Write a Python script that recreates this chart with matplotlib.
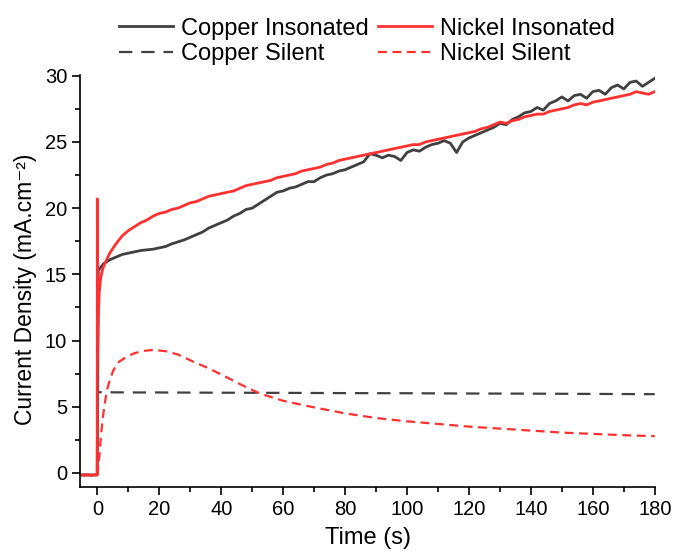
import numpy as np
import matplotlib
matplotlib.use("Agg")
import matplotlib.pyplot as plt

plt.rcParams['font.family'] = ['Liberation Sans', 'DejaVu Sans']

# before the pulse, all currents sit near zero
t_pre = [-5, -4, -3, -2, -1, -0.05]
pre_vals = [-0.15, -0.16, -0.15, -0.17, -0.15, -0.15]

# regular sampling after the start (s)
t_main = np.arange(2, 181, 2)

copper_ins_start_t = [0.3]
copper_ins_start = [15.3]
copper_ins = [
    15.8, 16.1, 16.3, 16.5, 16.6, 16.7, 16.8, 16.85, 16.9, 17.0,
    17.1, 17.3, 17.45, 17.6, 17.8, 18.0, 18.2, 18.5, 18.7, 18.9,
    19.1, 19.4, 19.6, 19.9, 20.0, 20.3, 20.6, 20.9, 21.2, 21.3,
    21.5, 21.6, 21.8, 22.0, 22.0, 22.3, 22.5, 22.6, 22.8, 22.9,
    23.1, 23.3, 23.5, 24.1, 24.0, 23.8, 24.0, 23.9, 23.6, 24.2,
    24.4, 24.3, 24.6, 24.8, 24.9, 25.1, 24.9, 24.2, 25.0, 25.3,
    25.5, 25.7, 25.9, 26.1, 26.4, 26.3, 26.7, 26.9, 27.2, 27.3,
    27.6, 27.4, 27.9, 28.1, 28.4, 28.1, 28.5, 28.6, 28.3, 28.8,
    28.9, 28.6, 29.1, 29.3, 29.0, 29.5, 29.6, 29.2, 29.5, 29.8,
]

nickel_ins_start_t = [0.0, 0.05, 0.3, 0.6, 1.0, 1.5]
nickel_ins_start = [20.7, 8.6, 11.8, 13.6, 14.6, 15.2]
nickel_ins = [
    15.6, 16.6, 17.3, 17.9, 18.3, 18.6, 18.9, 19.1, 19.4, 19.6,
    19.7, 19.9, 20.0, 20.2, 20.4, 20.5, 20.7, 20.9, 21.0, 21.1,
    21.2, 21.3, 21.5, 21.7, 21.8, 21.9, 22.0, 22.1, 22.3, 22.4,
    22.5, 22.6, 22.8, 22.9, 23.0, 23.1, 23.3, 23.4, 23.6, 23.7,
    23.8, 23.9, 24.0, 24.1, 24.2, 24.3, 24.4, 24.5, 24.6, 24.7,
    24.8, 24.8, 25.0, 25.1, 25.2, 25.3, 25.4, 25.5, 25.6, 25.7,
    25.8, 26.0, 26.1, 26.3, 26.5, 26.4, 26.6, 26.7, 26.9, 27.0,
    27.1, 27.1, 27.3, 27.4, 27.5, 27.6, 27.8, 27.9, 27.8, 28.0,
    28.1, 28.2, 28.3, 28.4, 28.5, 28.6, 28.8, 28.7, 28.6, 28.8,
]

copper_sil_t = [-5, -3, -1, -0.05, 0.05, 10, 20, 40, 60, 80, 100, 120, 140, 160, 180]
copper_sil = [-0.15, -0.15, -0.15, -0.15, 6.1, 6.08, 6.08, 6.06, 6.05, 6.03, 6.02, 6.0, 5.99, 5.97, 5.95]

nickel_sil_t = [-5, -3, -1, 0, 0.2, 0.5, 0.8, 1.2, 1.8, 2.5, 3.1, 4, 5.2, 7, 9.5, 12, 15, 18,
                22, 26, 31, 36, 42, 47, 52.5, 60, 70, 80, 90, 100, 110, 120, 130, 140, 150,
                160, 170, 180]
nickel_sil = [-0.15, -0.15, -0.15, -0.1, 0.2, 0.9, 1.7, 2.9, 4.25, 5.4, 6.27, 7.0, 7.78, 8.4,
              8.78, 9.05, 9.22, 9.29, 9.2, 8.95, 8.4, 7.9, 7.2, 6.6, 6.0, 5.45, 4.95, 4.5,
              4.15, 3.9, 3.7, 3.5, 3.35, 3.2, 3.05, 2.95, 2.85, 2.78]

grey = '#404040'
red = '#ff3030'

fig = plt.figure(figsize=(6.75, 5.52), dpi=100)
ax = fig.add_axes([0.119, 0.118, 0.851, 0.746])

t_cu = np.concatenate([t_pre, copper_ins_start_t, t_main])
y_cu = np.concatenate([pre_vals, copper_ins_start, copper_ins])
t_ni = np.concatenate([t_pre, nickel_ins_start_t, t_main])
y_ni = np.concatenate([pre_vals, nickel_ins_start, nickel_ins])

l1, = ax.plot(t_cu, y_cu, color=grey, lw=2, label='Copper Insonated')
l2, = ax.plot(copper_sil_t, copper_sil, color=grey, lw=1.6, dashes=(6, 4), label='Copper Silent')
l3, = ax.plot(t_ni, y_ni, color=red, lw=2, label='Nickel Insonated')
l4, = ax.plot(nickel_sil_t, nickel_sil, color=red, lw=1.6, dashes=(4, 2.5), label='Nickel Silent')

ax.set_xlim(-5.5, 180)
ax.set_ylim(-1.05, 30.05)
ax.set_xticks(range(0, 181, 20))
ax.set_xticks(range(10, 181, 20), minor=True)
ax.set_yticks(range(0, 31, 5))
ax.set_yticks(np.arange(2.5, 30, 5), minor=True)
ax.tick_params(which='major', direction='out', length=6, width=1.2, labelsize=14.5)
ax.tick_params(which='minor', direction='out', length=3.5, width=1.2)
for s in ['top', 'right']:
    ax.spines[s].set_visible(False)
for s in ['left', 'bottom']:
    ax.spines[s].set_linewidth(1.2)

ax.set_xlabel('Time (s)', fontsize=17, labelpad=6)
ax.set_ylabel('Current Density (mA.cm⁻²)', fontsize=16.5)
ax.yaxis.set_label_coords(-0.075, 0.48)

fig.legend(handles=[l1, l2, l3, l4], ncol=2, loc='upper left',
           bbox_to_anchor=(0.176, 0.968), frameon=False, fontsize=17,
           borderpad=0, borderaxespad=0,
           handlelength=2.3, handletextpad=0.34, columnspacing=0.38,
           labelspacing=0.16)

fig.savefig('out.png', dpi=100)
